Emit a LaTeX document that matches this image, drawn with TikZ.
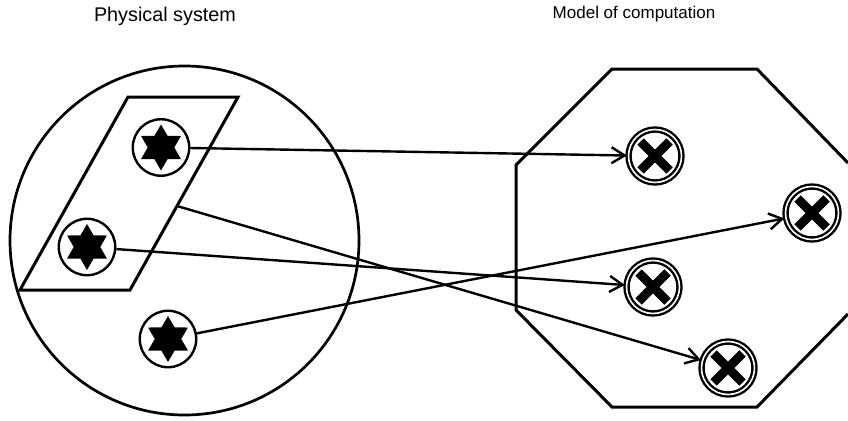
\documentclass[tikz,border=0pt]{standalone}
\usepackage{fontspec}
\setmainfont{Liberation Sans}
\usetikzlibrary{arrows.meta,shapes.geometric}
\tikzset{
  x=1pt,y=-1pt,
  outline/.style={draw=black,line width=3pt,line join=miter},
  thin outline/.style={draw=black,line width=2.7pt},
  source/.style={circle,draw=black,line width=2.4pt,fill=white,minimum size=56.5pt,inner sep=0pt,
    path picture={\fill[black,shift={(path picture bounding box.center)}]
      (90:23)--(60:13.3)--(30:23)--(0:13.3)--(-30:23)--(-60:13.3)--(-90:23)--(-120:13.3)--(-150:23)--(180:13.3)--(150:23)--(120:13.3)--cycle;}},
  sink/.style={circle,draw=black,line width=2.4pt,double=white,double distance=1.6pt,fill=white,minimum size=53pt,inner sep=0pt,
    path picture={\draw[black,line width=9pt,shift={(path picture bounding box.center)}]
      (-14.5,-14.5)--(14.5,14.5) (-14.5,14.5)--(14.5,-14.5);}},
  conn/.style={draw=black,line width=2.4pt,-{Straight Barb[length=13pt,width=16pt,line width=2.4pt]},shorten >=0.5pt},
  caption/.style={inner sep=0pt,text=black}
}
\begin{document}
\begin{tikzpicture}
\useasboundingbox (0,0) rectangle (848,420);
\node[caption,font=\fontsize{19.8pt}{22pt}\selectfont] (t1) at (165,16) {Physical system};
\node[caption,font=\fontsize{17pt}{20pt}\selectfont] (t2) at (634,14) {Model of computation};
\draw[thin outline] (184.5,240.5) circle (174.5);
\draw[outline] (128,97)--(238,97)--(130,290)--(20,290)--cycle;
\draw[outline] (848,163)--(757,69)--(612,69)--(516,165)--(516,310)--(612,407)--(757,407)--(848,314);
\node[source] (s1) at (161,147.5) {};
\node[source] (s2) at (87,247) {};
\node[source] (s3) at (168,339) {};
\node[sink] (x1) at (655,156) {};
\node[sink] (x2) at (812,213) {};
\node[sink] (x3) at (653,287) {};
\node[sink] (x4) at (728,368) {};
\coordinate (e) at (177,206);
\draw[conn] (s1) -- (x1);
\draw[conn] (s2) -- (x3);
\draw[conn] (s3) -- (x2);
\draw[conn] (e) -- (x4);
\end{tikzpicture}
\end{document}
